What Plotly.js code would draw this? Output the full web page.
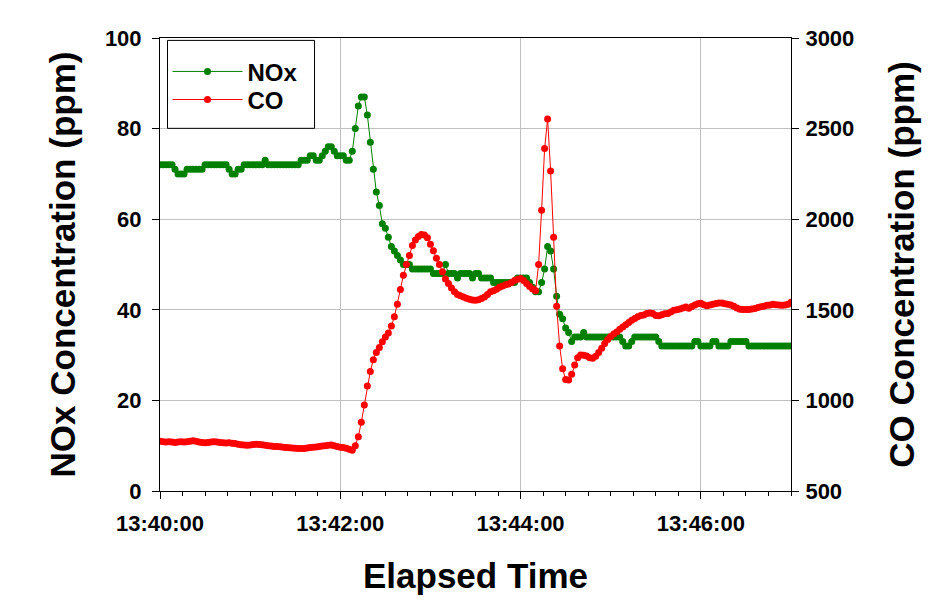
<!DOCTYPE html>
<html>
<head>
<meta charset="utf-8">
<script src="https://cdn.plot.ly/plotly-3.0.1.min.js"></script>
<style>html,body{margin:0;padding:0;background:#fff;}#chart{width:942px;height:600px;}</style>
</head>
<body>
<div id="chart"></div>
<script>
// Elapsed seconds after 13:40:00 (one sample every 2 s)
const elapsedSeconds = [
  0,2,4,6,8,10,12,14,16,18, 20,22,24,26,28,30,32,34,36,38,
  40,42,44,46,48,50,52,54,56,58, 60,62,64,66,68,70,72,74,76,78,
  80,82,84,86,88,90,92,94,96,98, 100,102,104,106,108,110,112,114,116,118,
  120,122,124,126,128,130,132,134,136,138, 140,142,144,146,148,150,152,154,156,158,
  160,162,164,166,168,170,172,174,176,178, 180,182,184,186,188,190,192,194,196,198,
  200,202,204,206,208,210,212,214,216,218, 220,222,224,226,228,230,232,234,236,238,
  240,242,244,246,248,250,252,254,256,258, 260,262,264,266,268,270,272,274,276,278,
  280,282,284,286,288,290,292,294,296,298, 300,302,304,306,308,310,312,314,316,318,
  320,322,324,326,328,330,332,334,336,338, 340,342,344,346,348,350,352,354,356,358,
  360,362,364,366,368,370,372,374,376,378, 380,382,384,386,388,390,392,394,396,398,
  400,402,404,406,408,410,412,414,416,418, 420
];

const noxPpm = [
  72,72,72,72,72,71,70,70,70,71,
  71,71,71,71,71,72,72,72,72,72,
  72,72,72,71,70,70,71,71,72,72,
  72,72,72,72,72,73,72,72,72,72,
  72,72,72,72,72,72,72,73,73,73,
  74,74,73,73,74,75,76,76,75,74,
  74,74,73,73,75,80,85,87,87,83,
  77,71,66,63,59,58,56,54,53,52,
  51,50,50,50,49,49,49,49,49,49,
  49,48,48,48,48,50,48,48,48,47,
  48,48,48,48,47,48,48,47,47,47,
  47,46,46,46,46,46,46,46,46,47,
  47,47,47,46,45,44,44,46,49,54,
  53,49,43,39,38,36,35,33,34,34,
  34,35,34,34,34,34,34,34,34,34,
  34,34,34,34,33,32,32,33,34,34,
  34,34,34,34,34,34,33,32,32,32,
  32,32,32,32,32,32,32,32,33,33,
  32,32,32,32,33,33,32,32,32,32,
  33,33,33,33,33,33,32,32,32,32,
  32,32,32,32,32,32,32,32,32,32,
  32
];

const coPpm = [
  775,772,770,772,770,768,770,772,770,772,
  775,778,775,770,768,766,768,770,772,770,
  768,766,765,766,764,762,758,755,754,752,
  754,756,758,757,755,752,750,748,746,745,
  744,742,740,738,737,736,735,734,735,737,
  740,742,743,745,748,750,752,754,750,745,
  742,740,736,730,725,750,800,880,975,1080,
  1160,1225,1265,1292,1323,1350,1372,1410,1462,1530,
  1612,1690,1750,1800,1855,1885,1905,1915,1913,1898,
  1862,1826,1785,1750,1710,1670,1645,1620,1600,1585,
  1577,1571,1564,1558,1554,1553,1556,1562,1571,1585,
  1599,1605,1613,1625,1632,1638,1643,1650,1662,1668,
  1673,1662,1645,1628,1615,1605,1750,2050,2390,2553,
  2266,1900,1520,1300,1175,1115,1112,1145,1195,1235,
  1250,1249,1245,1236,1232,1243,1265,1288,1314,1336,
  1352,1366,1378,1392,1405,1418,1430,1442,1452,1462,
  1468,1471,1480,1482,1480,1468,1467,1472,1478,1480,
  1488,1497,1500,1505,1510,1515,1508,1518,1527,1533,
  1536,1528,1522,1527,1531,1535,1538,1538,1534,1530,
  1526,1520,1510,1503,1502,1501,1502,1504,1507,1513,
  1517,1520,1525,1527,1530,1528,1526,1525,1526,1530,
  1542
];

const seriesNames = ['NOx', 'CO'];
const leftTicks = [0, 20, 40, 60, 80, 100];
const rightTicks = [500, 1000, 1500, 2000, 2500, 3000];
const startClock = '13:40:00';
const endClock = '13:47:00';

function pad(n){ return (n < 10 ? '0' : '') + n; }
function clockFrom(sec){
  const base = 13*3600 + 40*60;
  const s = base + sec;
  return '2000-01-01 ' + pad(Math.floor(s/3600)) + ':' + pad(Math.floor((s%3600)/60)) + ':' + pad(s%60);
}
const xTimes = elapsedSeconds.map(clockFrom);

const FONT = 'Liberation Sans, Arial, sans-serif';

const traces = [
  {
    x: xTimes, y: noxPpm, name: seriesNames[0], type: 'scatter', mode: 'lines+markers',
    line: {color: '#008000', width: 1},
    marker: {color: '#008000', size: 7},
    yaxis: 'y', legend: 'legend'
  },
  {
    x: xTimes, y: coPpm, name: seriesNames[1], type: 'scatter', mode: 'lines+markers',
    line: {color: '#ff0000', width: 1},
    marker: {color: '#ff0000', size: 7},
    yaxis: 'y2', legend: 'legend2'
  }
];

const tickFont = {family: FONT, size: 22, color: '#000', weight: 'bold'};
const titleFont = {family: FONT, size: 35, color: '#000', weight: 'bold'};
const legendFont = {family: FONT, size: 24, color: '#000', weight: 'bold'};

const legendBase = {
  x: 0.0119, xanchor: 'left', yanchor: 'top',
  bgcolor: 'rgba(0,0,0,0)', borderwidth: 0,
  font: legendFont, itemwidth: 70
};

const layout = {
  width: 942, height: 600,
  paper_bgcolor: '#fff', plot_bgcolor: '#fff',
  margin: {l: 160, r: 151, t: 38, b: 109},
  showlegend: true,
  legend: Object.assign({}, legendBase, {y: 0.975}),
  legend2: Object.assign({}, legendBase, {y: 0.913}),
  shapes: [{
    type: 'rect', xref: 'paper', yref: 'paper',
    x0: 0.0119, x1: 0.2449, y0: 0.8006, y1: 0.9947,
    line: {color: '#000', width: 1}, fillcolor: 'rgba(0,0,0,0)', layer: 'above'
  }],
  xaxis: {
    type: 'date',
    range: ['2000-01-01 ' + startClock, '2000-01-01 ' + endClock],
    tick0: '2000-01-01 ' + startClock, dtick: 120000,
    tickformat: '%H:%M:%S',
    ticks: 'outside', ticklen: 7, tickwidth: 1, tickcolor: '#000',
    ticklabelstandoff: 6,
    showline: true, linecolor: '#000', linewidth: 1, mirror: true,
    showgrid: true, gridcolor: '#c0c0c0', gridwidth: 1,
    zeroline: false,
    minor: {dtick: 15000, ticks: 'outside', ticklen: 4, tickcolor: '#000', showgrid: false},
    tickfont: tickFont,
    title: {text: 'Elapsed Time', font: titleFont, standoff: 28}
  },
  yaxis: {
    range: [0, 100], tickvals: leftTicks,
    ticks: 'outside', ticklen: 7, tickwidth: 1, tickcolor: '#000',
    ticklabelstandoff: 6,
    showline: true, linecolor: '#000', linewidth: 1,
    showgrid: true, gridcolor: '#c0c0c0', gridwidth: 1,
    zeroline: false,
    tickfont: tickFont,
    title: {text: 'NOx Concentration (ppm)', font: titleFont, standoff: 18}
  },
  yaxis2: {
    range: [500, 3000], tickvals: rightTicks,
    overlaying: 'y', side: 'right',
    ticks: 'outside', ticklen: 7, tickwidth: 1, tickcolor: '#000',
    ticklabelstandoff: 2,
    showline: true, linecolor: '#000', linewidth: 1,
    showgrid: false, zeroline: false,
    tickfont: tickFont,
    title: {text: 'CO Concentration (ppm)', font: titleFont, standoff: 36}
  }
};

Plotly.newPlot('chart', traces, layout, {displayModeBar: false, staticPlot: true});
</script>
</body>
</html>
